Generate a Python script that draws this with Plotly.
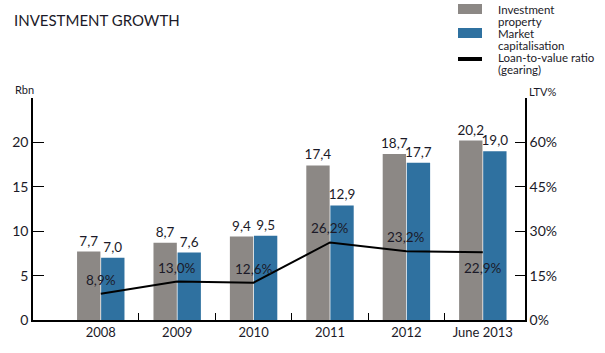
import plotly.graph_objects as go

categories = ["2008", "2009", "2010", "2011", "2012", "June 2013"]
investment_property = [7.7, 8.7, 9.4, 17.4, 18.7, 20.2]
market_cap = [7.0, 7.6, 9.5, 12.9, 17.7, 19.0]
ltv = [8.9, 13.0, 12.6, 26.2, 23.2, 22.9]
left_ticks = [0, 5, 10, 15, 20, 25]
left_ticktext = ["0", "5", "10", "15", "20", ""]
right_ticks = [0, 15, 30, 45, 60, 75]
right_ticktext = ["0%", "15%", "30%", "45%", "60%", ""]

GRAY = "#8c8885"
BLUE = "#2f71a0"
TXT = "#1b1a28"
FONT = "Lato"

W, H = 605, 353
L, R, T, B = 33, 525, 98, 320

def px(x):
    return (x - L) / (R - L)

def py(y):
    return (B - y) / (B - T)

idx = list(range(len(categories)))
boundaries = [i + 0.5 for i in idx[:-1]]

fig = go.Figure()
fig.add_trace(go.Bar(x=idx, y=investment_property, marker=dict(color=GRAY, line=dict(width=0)),
                     texttemplate="%{y:.1f}", textposition="outside", cliponaxis=False,
                     constraintext="none",
                     textfont=dict(size=13.5, color=TXT, family=FONT), showlegend=False))
fig.add_trace(go.Bar(x=idx, y=market_cap, marker=dict(color=BLUE, line=dict(width=0)),
                     texttemplate="%{y:.1f}", textposition="outside", cliponaxis=False,
                     constraintext="none",
                     textfont=dict(size=13.5, color=TXT, family=FONT), showlegend=False))
fig.add_trace(go.Scatter(x=idx, y=ltv, yaxis="y2", mode="lines",
                         line=dict(color="black", width=2),
                         cliponaxis=False, showlegend=False))

# LTV value labels: above the line, the last one below it
for i, v in zip(idx, ltv):
    below = (i == idx[-1])
    fig.add_annotation(x=i, y=v, xref="x", yref="y2",
                       text=f"{v:.1f}".replace(".", ",") + "%",
                       showarrow=False, xanchor="center", yanchor="middle",
                       yshift=-16 if below else 14,
                       font=dict(size=13.5, color=TXT, family=FONT))

fig.update_layout(
    width=W, height=H,
    margin=dict(l=L, r=W - R, t=T, b=H - B, pad=0),
    paper_bgcolor="white", plot_bgcolor="white",
    separators=",.",
    barmode="group", bargap=0.37, bargroupgap=0.03,
    font=dict(family=FONT, color=TXT),
    xaxis=dict(range=[-0.887, 5.552], tickmode="array", tickvals=idx, ticktext=categories,
               ticks="", showgrid=False, zeroline=False, showline=True, linecolor="black",
               linewidth=1.5, tickfont=dict(size=13, color=TXT),
               minor=dict(tickmode="array", tickvals=boundaries, ticks="inside",
                          ticklen=7, tickcolor="black", tickwidth=1.2, showgrid=False)),
    yaxis=dict(range=[0, 25], tickmode="array", tickvals=left_ticks, ticktext=left_ticktext,
               ticks="inside", ticklen=11, tickcolor="black", tickwidth=1.2,
               showgrid=False, zeroline=False, showline=True, linecolor="black", linewidth=1.5,
               tickfont=dict(size=14, color=TXT)),
    yaxis2=dict(range=[0, 75], overlaying="y", side="right", tickmode="array",
                tickvals=right_ticks, ticktext=right_ticktext,
                ticks="inside", ticklen=10, tickcolor="black", tickwidth=1.2,
                showgrid=False, zeroline=False, showline=True, linecolor="black", linewidth=1.5,
                tickfont=dict(size=14, color=TXT)),
)

annots = [
    dict(text="INVESTMENT GROWTH", x=px(12), y=py(20), size=15),
    dict(text="Rbn", x=px(13), y=py(89), size=11),
    dict(text="LTV%", x=px(527), y=py(91), size=11),
    dict(text="Investment", x=px(496), y=py(9), size=11.5),
    dict(text="property", x=px(496), y=py(22), size=11.5),
    dict(text="Market", x=px(496), y=py(33), size=11.5),
    dict(text="capitalisation", x=px(496), y=py(46), size=11.5),
    dict(text="Loan-to-value ratio", x=px(496), y=py(57), size=11.5),
    dict(text="(gearing)", x=px(496), y=py(70), size=11.5),
]
for a in annots:
    fig.add_annotation(text=a["text"], x=a["x"], y=a["y"], xref="paper", yref="paper",
                       xanchor="left", yanchor="middle", showarrow=False,
                       font=dict(size=a["size"], color=TXT, family=FONT))

fig.add_shape(type="rect", xref="paper", yref="paper", x0=px(458), x1=px(482), y0=py(14), y1=py(4),
              fillcolor=GRAY, line=dict(width=0))
fig.add_shape(type="rect", xref="paper", yref="paper", x0=px(458), x1=px(482), y0=py(38), y1=py(28),
              fillcolor=BLUE, line=dict(width=0))
fig.add_shape(type="line", xref="paper", yref="paper", x0=px(458), x1=px(482), y0=py(59), y1=py(59),
              line=dict(color="black", width=4))

fig.write_html("out.html")
